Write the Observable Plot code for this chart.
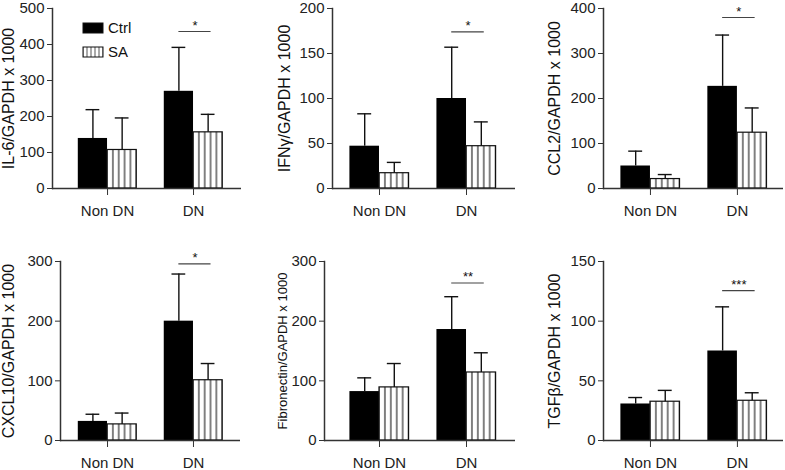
<!DOCTYPE html>
<html><head><meta charset="utf-8">
<script src="https://cdn.jsdelivr.net/npm/d3@7"></script>
<script src="https://cdn.jsdelivr.net/npm/@observablehq/plot@0.6"></script>
<style>
body{margin:0;background:#fff;font-family:"Liberation Sans",Arial,Helvetica,sans-serif;}
#wrap{position:relative;width:785px;height:470px;overflow:hidden;background:#fff;}
.panel{position:absolute;overflow:visible;}
#legend{position:absolute;left:82px;top:16px;font-size:15px;color:#111;line-height:24px;}
#legend div{display:flex;align-items:center;height:24px;}
#legend svg{margin-right:4px;}
</style></head><body>
<svg width="0" height="0" style="position:absolute">
<defs>
<pattern id="vstripe" patternUnits="objectBoundingBox" patternContentUnits="objectBoundingBox" width="0.2" height="1">
<rect x="0" y="0" width="0.2" height="1" fill="#fff"/>
<rect x="0" y="0" width="0.018" height="1" fill="#111"/>
<rect x="0.182" y="0" width="0.018" height="1" fill="#111"/>
</pattern>
</defs></svg>
<div id="wrap"></div>
<script>
// ---- data ----
const categories = ["Non DN", "DN"];
const series = ["Ctrl", "SA"];
const yLabels = ["IL-6/GAPDH x 1000", "IFNγ/GAPDH x 1000", "CCL2/GAPDH x 1000",
                 "CXCL10/GAPDH x 1000", "Fibronectin/GAPDH x 1000", "TGFβ/GAPDH x 1000"];
const yMax   = [500, 200, 400, 300, 300, 150];
const yStep  = [100, 50, 100, 100, 100, 50];
const ctrlMean = [[139, 270], [47, 100], [50, 227], [32, 200], [82, 186], [30.6, 75]];
const ctrlErr  = [[80, 122],  [36, 57],  [33, 114], [12, 79],  [23, 55],  [5.4, 37]];
const saMean   = [[107, 156], [17, 47],  [21, 124], [27, 101], [89, 114], [32.5, 33.3]];
const saErr    = [[89, 50],   [12, 27],  [10, 55],  [19, 28],  [40, 33],  [9.5, 6.7]];
const sigValue = [436, 174, 380, 296, 264, 125.6];
const sigStars = ["*", "*", "*", "*", "**", "***"];

// ---- layout (pixels) ----
const FONT = '"Liberation Sans", Arial, Helvetica, sans-serif';
const layout = [
  {left: 0,   top: 0,   w: 260, h: 235, ml: 52, mr: 19, mt: 8,  mb: 47, xd: [-0.64, 1.558], lx: 8,   lfs: 16},
  {left: 260, top: 0,   w: 260, h: 235, ml: 72, mr: 5,  mt: 8,  mb: 47, xd: [-0.54, 1.563], lx: 24,  lfs: 16},
  {left: 520, top: 0,   w: 265, h: 235, ml: 83, mr: 2,  mt: 8,  mb: 47, xd: [-0.54, 1.53],  lx: 34,  lfs: 16},
  {left: 0,   top: 235, w: 260, h: 235, ml: 60, mr: 20, mt: 26, mb: 30, xd: [-0.547, 1.547], lx: 8.5, lfs: 16},
  {left: 260, top: 235, w: 260, h: 235, ml: 64, mr: 5,  mt: 26, mb: 30, xd: [-0.632, 1.563], lx: 22.5, lfs: 13},
  {left: 520, top: 235, w: 265, h: 235, ml: 83, mr: 2,  mt: 26, mb: 30, xd: [-0.54, 1.53],  lx: 34,  lfs: 16}
];
const BW = 0.34;   // bar width as a fraction of the category step
const CAP = 0.08;  // half width of error caps

const wrap = document.getElementById("wrap");

layout.forEach((L, i) => {
  const rows = categories.map((c, ci) => ({
    ci, cat: c,
    ctrl: ctrlMean[i][ci], ctrlTop: ctrlMean[i][ci] + ctrlErr[i][ci],
    sa: saMean[i][ci], saTop: saMean[i][ci] + saErr[i][ci]
  }));
  const ticks = d3.range(0, yMax[i] + yStep[i] / 2, yStep[i]);
  const sig = [{ci: 1, v: sigValue[i], s: sigStars[i]}];
  const chart = Plot.plot({
    width: L.w, height: L.h,
    marginLeft: L.ml, marginRight: L.mr, marginTop: L.mt, marginBottom: L.mb,
    style: {fontFamily: FONT, fontSize: "15px", color: "#222", background: "transparent", overflow: "visible"},
    x: {domain: L.xd, axis: null},
    y: {domain: [0, yMax[i]], axis: null},
    marks: [
      Plot.rect(rows, {x1: d => d.ci - BW, x2: d => d.ci, y1: 0, y2: "ctrl", fill: "#000"}),
      Plot.rect(rows, {x1: d => d.ci, x2: d => d.ci + BW, y1: 0, y2: "sa", fill: "url(#vstripe)", stroke: "#111", strokeWidth: 1.2}),
      Plot.ruleX(rows, {x: d => d.ci - BW / 2, y1: "ctrl", y2: "ctrlTop", stroke: "#111", strokeWidth: 1.4}),
      Plot.ruleY(rows, {y: "ctrlTop", x1: d => d.ci - BW / 2 - CAP, x2: d => d.ci - BW / 2 + CAP, stroke: "#111", strokeWidth: 1.4}),
      Plot.ruleX(rows, {x: d => d.ci + BW / 2, y1: "sa", y2: "saTop", stroke: "#111", strokeWidth: 1.4}),
      Plot.ruleY(rows, {y: "saTop", x1: d => d.ci + BW / 2 - CAP, x2: d => d.ci + BW / 2 + CAP, stroke: "#111", strokeWidth: 1.4}),
      Plot.ruleY([0], {stroke: "#333", strokeWidth: 1.5}),
      Plot.frame({anchor: "left", stroke: "#333", strokeWidth: 1.5}),
      Plot.axisY({ticks, tickSize: 5, tickPadding: 3, fontSize: 15, label: null, tickFormat: d => String(d), stroke: "#333"}),
      Plot.axisX({ticks: [0, 1], tickFormat: d => categories[d], tickSize: 7, tickPadding: 10, fontSize: 15, label: null, stroke: "#333"}),
      Plot.text([yLabels[i]], {frameAnchor: "left", rotate: -90, dx: L.lx - L.ml, fontSize: L.lfs, textAnchor: "middle", lineAnchor: "middle", fill: "#111"}),
      Plot.ruleY(sig, {y: "v", x1: d => d.ci - BW / 2, x2: d => d.ci + BW * 0.6, stroke: "#444", strokeWidth: 1.1}),
      Plot.text(sig, {x: d => d.ci + BW * 0.05, y: "v", text: "s", fontSize: 13, dy: -6, lineAnchor: "middle", fill: "#111"})
    ]
  });
  chart.classList.add("panel");
  chart.style.left = L.left + "px";
  chart.style.top = L.top + "px";
  wrap.appendChild(chart);
});

// legend (inside first panel)
const leg = document.createElement("div");
leg.id = "legend";
leg.innerHTML = series.map((s, k) =>
  `<div><svg width="22" height="12"><rect x="1" y="1" width="20" height="10" fill="${k === 0 ? "#000" : "url(#vstripe)"}" stroke="#111" stroke-width="1"/></svg><span>${s}</span></div>`
).join("");
wrap.appendChild(leg);
</script>
</body></html>
